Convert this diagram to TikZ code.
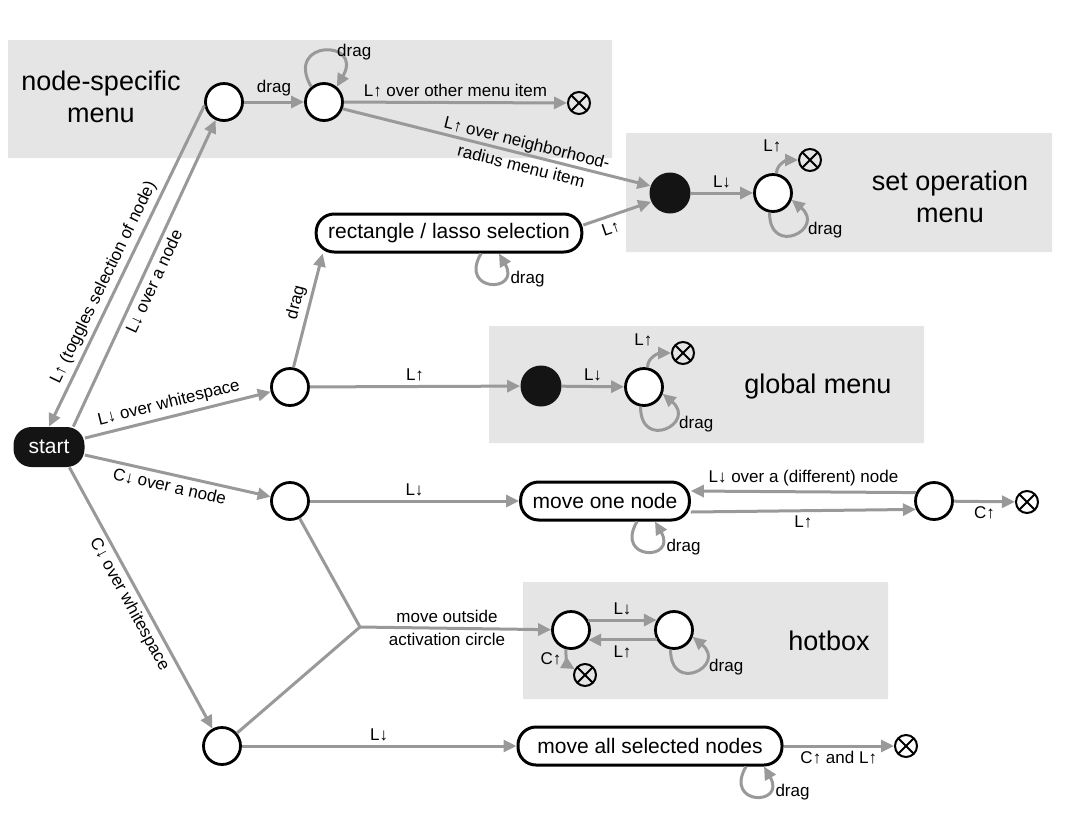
\documentclass[tikz,border=0pt]{standalone}
\usepackage{fontspec}
\setmainfont{Liberation Sans}
\usetikzlibrary{arrows.meta,backgrounds,positioning}

\begin{document}
\begin{tikzpicture}[x=0.5pt,y=-0.5pt,>={Triangle[length=6.5pt,width=6pt]}]
  \tikzstyle{stnode}=[circle,draw=black,line width=1.4pt,fill=white,minimum size=18.5pt,inner sep=0pt]
  \tikzstyle{hubnode}=[circle,fill=black!92,minimum size=20.5pt,inner sep=0pt]
  \tikzstyle{endmark}=[circle,draw=black,line width=1pt,minimum size=11pt,inner sep=0pt,path picture={\draw[line width=1pt] (path picture bounding box.north west) -- (path picture bounding box.south east) (path picture bounding box.south west) -- (path picture bounding box.north east);}]
  \tikzstyle{modebox}=[rectangle,rounded corners=9pt,draw=black,line width=1.5pt,fill=white,minimum height=19pt,inner xsep=6pt,font=\fontsize{10.5}{12}\selectfont]
  \tikzstyle{startbox}=[rectangle,rounded corners=9pt,fill=black!92,text=white,minimum height=20pt,minimum width=35.5pt,font=\fontsize{10.5}{12}\selectfont]
  \tikzstyle{trans}=[->,draw=black!40,line width=1.5pt]
  \tikzstyle{link}=[-,draw=black!40,line width=1.5pt]
  \tikzstyle{lbl}=[font=\fontsize{8.5}{10}\selectfont,inner sep=2pt]
  \tikzstyle{menutitle}=[align=center,font=\fontsize{13.5}{16}\selectfont]

  \useasboundingbox (0,0) rectangle (1072,837);

  % Start state.
  \node [startbox] (start) at (49,447) {start};

  % Node-specific menu.
  \node [menutitle] (nsm) at (101,97) {node-specific\\menu};
  \node [stnode] (n1) at (224,102) {};
  \node [stnode] (n2) at (324,102) {};
  \node [endmark] (nx) at (579,103) {};

  % Set operation menu.
  \node [hubnode] (sfill) at (670,193) {};
  \node [stnode] (s2) at (773,193) {};
  \node [endmark] (sx) at (810,160) {};
  \node [menutitle] (som) at (950,197) {set operation\\menu};

  % Lasso selection and global menu.
  \node [modebox] (rect) at (449,233) {rectangle / lasso selection};
  \node [stnode] (w) at (290,387) {};
  \node [hubnode] (gfill) at (541,386) {};
  \node [stnode] (g2) at (644,387) {};
  \node [endmark] (gx) at (683,353) {};
  \node [menutitle] (gm) at (818,387) {global menu};

  % Move one node.
  \node [stnode] (cn) at (290,501) {};
  \node [modebox] (mo) at (605,501) {move one node};
  \node [stnode] (mr) at (934,501) {};
  \node [endmark] (mx) at (1027,502) {};

  % Hotbox.
  \coordinate (j) at (360,627);
  \node [stnode] (h1) at (571,630) {};
  \node [stnode] (h2) at (674,630) {};
  \node [endmark] (hx) at (585,675) {};
  \node [menutitle] (hb) at (829,641) {hotbox};

  % Move all selected nodes.
  \node [stnode] (cw) at (222,746) {};
  \node [modebox,minimum width=132pt] (ma) at (650,746) {move all selected nodes};
  \node [endmark] (mallx) at (906,746) {};

  % Leaving start.
  \draw [trans] (n1.190) -- node [lbl,sloped,above,pos=0.57] {L↑ (toggles selection of node)} (start.north);
  \draw [trans] (start.40) -- node [lbl,sloped,below,pos=0.49] {L↓ over a node} (n1);
  \draw [trans] (start) -- node [lbl,sloped,above,pos=0.47] {L↓ over whitespace} (w);
  \draw [trans] (start) -- node [lbl,sloped,below,pos=0.47] {C↓ over a node} (cn);
  \draw [trans] (start.-45) -- node [lbl,sloped,below,pos=0.5] {C↓ over whitespace} (cw);

  % Node-specific menu.
  \draw [trans] (n1) -- node [lbl,above] {drag} (n2);
  \draw [trans] (n2.130) to [out=120,in=60,looseness=5.5] node [lbl,pos=0.6,right] {drag} (n2.50);
  \draw [trans] (n2) -- node [lbl,above] {L↑ over other menu item} (nx);
  \draw [trans] (n2.-20) -- node [lbl,sloped,align=center,pos=0.59,font=\fontsize{8.5}{12}\selectfont] {L↑ over neighborhood-\\radius menu item} (sfill.160);

  % Set operation menu.
  \draw [trans] (w.80) -- node [lbl,sloped,above,pos=0.54] {drag} ([xshift=4pt]rect.south west);
  \draw [trans] ([xshift=16pt]rect.south) to [out=-120,in=-60,looseness=6.5] node [lbl,at end,anchor=north west,xshift=3pt,yshift=-6pt] {drag} ([xshift=25pt]rect.south);
  \draw [trans] ([yshift=4pt]rect.east) -- node [lbl,sloped,below,pos=0.35] {L↑} (sfill.205);
  \draw [trans] (sfill) -- node [lbl,above] {L↓} (s2);
  \draw [trans] (s2.80) to [out=90,in=180] node [lbl,at start,above=8pt,xshift=-2pt] {L↑} (sx);
  \draw [trans] (s2.260) to [out=-90,in=-40,looseness=4.5] node [lbl,at end,anchor=north west,xshift=5.5pt,yshift=-8.5pt] {drag} (s2.-20);

  % Global menu.
  \draw [trans] (w) -- node [lbl,above] {L↑} (gfill);
  \draw [trans] (gfill) -- node [lbl,above] {L↓} (g2);
  \draw [trans] (g2.80) to [out=90,in=180] node [lbl,at start,above=8pt,xshift=-2pt] {L↑} (gx);
  \draw [trans] (g2.260) to [out=-90,in=-40,looseness=4.5] node [lbl,at end,anchor=north west,xshift=5.5pt,yshift=-8.5pt] {drag} (g2.-20);

  % Move one node.
  \draw [trans] (cn) -- node [lbl,above] {L↓} (mo);
  \draw [trans] ([xshift=16pt]mo.south) to [out=-120,in=-60,looseness=6.5] node [lbl,at end,anchor=north west,xshift=3pt,yshift=-6pt] {drag} ([xshift=25pt]mo.south);
  \draw [trans] (mr.155) -- node [lbl,above] {L↓ over a (different) node} ([yshift=5pt]mo.east);
  \draw [trans] ([yshift=-5.5pt]mo.east) -- node [lbl,below] {L↑} (mr.205);
  \draw [trans] (mr) -- node [lbl,below] {C↑} (mx);

  % Hotbox.
  \draw [link] (cn) -- (j);
  \draw [link] (cw) -- (j);
  \draw [trans] (j) -- node [lbl,align=center,pos=0.455,font=\fontsize{8.5}{11.5}\selectfont] {move outside\\activation circle} (h1);
  \draw [trans] (h1.30) -- node [lbl,above] {L↓} (h2.150);
  \draw [trans] (h2.210) -- node [lbl,below] {L↑} (h1.-30);
  \draw [trans] (h1.255) to [out=-90,in=150] node [lbl,left,pos=0.4] {C↑} (hx);
  \draw [trans] (h2.260) to [out=-90,in=-40,looseness=4.5] node [lbl,at end,anchor=north west,xshift=5.5pt,yshift=-8.5pt] {drag} (h2.-20);

  % Move all selected nodes.
  \draw [trans] (cw) -- node [lbl,above] {L↓} (ma);
  \draw [trans] ([xshift=48pt]ma.south) to [out=-120,in=-60,looseness=6.5] node [lbl,at end,anchor=north west,xshift=3pt,yshift=-6pt] {drag} ([xshift=57pt]ma.south);
  \draw [trans] (ma) -- node [lbl,below] {C↑ and L↑} (mallx);

  \begin{pgfonlayer}{background}
    \fill [black!10] (8,40) rectangle (612,158)
      (626,133) rectangle (1052,252)
      (489,326) rectangle (924,443)
      (523,582) rectangle (888,699);
  \end{pgfonlayer}
\end{tikzpicture}
\end{document}
